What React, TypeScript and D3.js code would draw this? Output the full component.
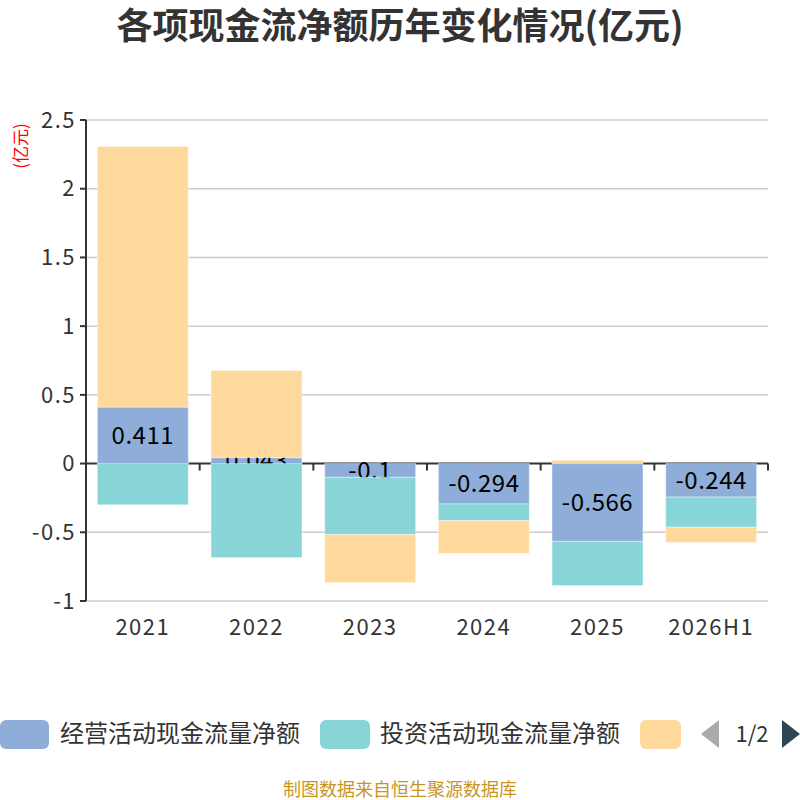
import React from 'react';
import * as d3 from 'd3';

const categories = ['2021', '2022', '2023', '2024', '2025', '2026H1'];
const seriesNames = ['经营活动现金流量净额', '投资活动现金流量净额', '筹资活动现金流量净额'];
const operating = [0.411, 0.043, -0.1, -0.294, -0.566, -0.244];
const investing = [-0.3, -0.684, -0.417, -0.121, -0.322, -0.219];
const financing = [1.896, 0.634, -0.349, -0.238, 0.024, -0.11];
const yTicks = [-1, -0.5, 0, 0.5, 1, 1.5, 2, 2.5];
const colors = ['#8eaed9', '#88d5d8', '#fed99b'];

const width = 800;
const height = 800;
const margin = { top: 120, right: 32, bottom: 199, left: 86 };
const font = '"Noto Sans CJK SC", "Noto Sans", sans-serif';

const App: React.FC = () => {
  const rows = categories.map((c, i) => ({
    cat: c,
    s0: operating[i],
    s1: investing[i],
    s2: financing[i],
  }));

  const stacked = d3.stack<any>()
    .keys(['s0', 's1', 's2'])
    .offset(d3.stackOffsetDiverging)(rows);

  const x = d3.scaleBand()
    .domain(categories)
    .range([margin.left, width - margin.right])
    .paddingInner(0.2)
    .paddingOuter(0.1);

  const y = d3.scaleLinear()
    .domain([-1, 2.5])
    .range([height - margin.bottom, margin.top]);

  const step = x.step();
  const left = margin.left;
  const right = width - margin.right;
  const y0 = y(0);

  return (
    <svg
      width={width}
      height={height}
      style={{ position: 'absolute', left: 0, top: 0, display: 'block', background: '#fff' }}
      fontFamily={font}
    >
      <text x={400} y={39} textAnchor="middle" fontSize={36} fontWeight="bold" fill="#333">
        各项现金流净额历年变化情况(亿元)
      </text>

      {/* y axis name */}
      <text
        transform={`translate(27, 146) rotate(-90)`}
        textAnchor="middle"
        fontSize={17}
        fill="#ff0000"
      >
        (亿元)
      </text>

      {/* grid */}
      {yTicks.filter(t => t !== 0).map(t => (
        <line key={t} x1={left} x2={right} y1={y(t)} y2={y(t)} stroke="#cccccc" strokeWidth={1.5} />
      ))}

      {/* y axis */}
      <line x1={left} x2={left} y1={y(2.5)} y2={y(-1)} stroke="#333" strokeWidth={2} />
      {yTicks.map(t => (
        <g key={t}>
          <line x1={left - 6} x2={left} y1={y(t)} y2={y(t)} stroke="#333" strokeWidth={2} />
          <text x={left - 10} y={y(t)} dy="0.35em" textAnchor="end" fontSize={22} letterSpacing={1.5} fill="#333">
            {t}
          </text>
        </g>
      ))}

      {/* x axis at zero */}
      <line x1={left} x2={right} y1={y0} y2={y0} stroke="#333" strokeWidth={2} />
      {d3.range(categories.length + 1).map(i => (
        <line
          key={i}
          x1={left + step * i}
          x2={left + step * i}
          y1={y0}
          y2={y0 + 7}
          stroke="#333"
          strokeWidth={2}
        />
      ))}
      {categories.map(c => (
        <text
          key={c}
          x={(x(c) as number) + x.bandwidth() / 2}
          y={627}
          dy="0.35em"
          textAnchor="middle"
          fontSize={22}
          letterSpacing={1.5}
          fill="#333"
        >
          {c}
        </text>
      ))}

      {/* bars and labels, series drawn in order */}
      {stacked.map((layer, si) => (
        <g key={si}>
          {layer.map((d, i) => {
            const top = y(Math.max(d[0], d[1]));
            const bot = y(Math.min(d[0], d[1]));
            return (
              <rect
                key={i}
                x={x(categories[i]) as number}
                y={top}
                width={x.bandwidth()}
                height={Math.max(0, bot - top)}
                fill={colors[si]}
                stroke="#ffffff"
                strokeOpacity={0.4}
                strokeWidth={1}
              />
            );
          })}
          {si === 0 && layer.map((d, i) => (
            <text
              key={'l' + i}
              x={(x(categories[i]) as number) + x.bandwidth() / 2}
              y={(y(d[0]) + y(d[1])) / 2}
              dy="0.35em"
              textAnchor="middle"
              fontSize={24}
              letterSpacing={0.5}
              fill="#000"
            >
              {operating[i]}
            </text>
          ))}
        </g>
      ))}

      {/* legend */}
      <g fontSize={24} fill="#333">
        <rect x={0} y={720} width={49} height={29} rx={6} fill={colors[0]} />
        <text x={60} y={734} dy="0.35em">{seriesNames[0]}</text>
        <rect x={320} y={720} width={50} height={29} rx={6} fill={colors[1]} />
        <text x={380} y={734} dy="0.35em">{seriesNames[1]}</text>
        <rect x={640} y={720} width={41} height={29} rx={6} fill={colors[2]} />
        <path d="M701,734 L719,720 L719,748 Z" fill="#aaaaaa" />
        <text x={752} y={734} dy="0.35em" textAnchor="middle" fontSize={22}>1/2</text>
        <path d="M800,734 L782,720 L782,748 Z" fill="#2f4554" />
      </g>

      <text x={400} y={790} dy="0.35em" textAnchor="middle" fontSize={18} fill="#c8961e">
        制图数据来自恒生聚源数据库
      </text>
    </svg>
  );
};

export default App;
